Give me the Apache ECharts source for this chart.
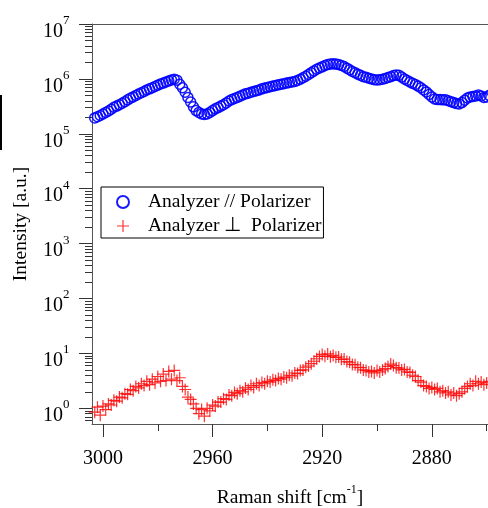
<!DOCTYPE html>
<html>
<head>
<meta charset="utf-8">
<script src="https://cdn.jsdelivr.net/npm/echarts@6/dist/echarts.min.js"></script>
<style>
html, body { margin: 0; padding: 0; background: #fff; }
#main { width: 488px; height: 508px; }
</style>
</head>
<body>
<div id="main"></div>
<script>
// Raman shift [cm-1]
var waveNumbers = [
	3003, 3002, 3001, 3000, 2999, 2998, 2997, 2996, 2995, 2994,
	2993, 2992, 2991, 2990, 2989, 2988, 2987, 2986, 2985, 2984,
	2983, 2982, 2981, 2980, 2979, 2978, 2977, 2976, 2975, 2974,
	2973, 2972, 2971, 2970, 2969, 2968, 2967, 2966, 2965, 2964,
	2963, 2962, 2961, 2960, 2959, 2958, 2957, 2956, 2955, 2954,
	2953, 2952, 2951, 2950, 2949, 2948, 2947, 2946, 2945, 2944,
	2943, 2942, 2941, 2940, 2939, 2938, 2937, 2936, 2935, 2934,
	2933, 2932, 2931, 2930, 2929, 2928, 2927, 2926, 2925, 2924,
	2923, 2922, 2921, 2920, 2919, 2918, 2917, 2916, 2915, 2914,
	2913, 2912, 2911, 2910, 2909, 2908, 2907, 2906, 2905, 2904,
	2903, 2902, 2901, 2900, 2899, 2898, 2897, 2896, 2895, 2894,
	2893, 2892, 2891, 2890, 2889, 2888, 2887, 2886, 2885, 2884,
	2883, 2882, 2881, 2880, 2879, 2878, 2877, 2876, 2875, 2874,
	2873, 2872, 2871, 2870, 2869, 2868, 2867, 2866, 2865, 2864,
	2863, 2862, 2861, 2860, 2859
];

// Analyzer // Polarizer
var parallelValues = [
	1.95e5, 2.05e5, 2.15e5, 2.3e5, 2.45e5, 2.6e5, 2.8e5, 3.05e5, 3.2e5, 3.4e5,
	3.6e5, 3.85e5, 4.15e5, 4.45e5, 4.7e5, 5.0e5, 5.3e5, 5.6e5, 5.9e5, 6.3e5,
	6.6e5, 6.9e5, 7.3e5, 7.7e5, 8.1e5, 8.4e5, 8.8e5, 9.2e5, 9.6e5, 9.9e5,
	9.5e5, 8.0e5, 6.9e5, 5.7e5, 4.6e5, 3.8e5, 3.1e5, 2.65e5, 2.45e5, 2.3e5,
	2.25e5, 2.3e5, 2.45e5, 2.65e5, 2.85e5, 3.0e5, 3.2e5, 3.4e5, 3.65e5, 3.95e5,
	4.2e5, 4.4e5, 4.6e5, 4.85e5, 5.1e5, 5.35e5, 5.5e5, 5.7e5, 5.9e5, 6.1e5,
	6.3e5, 6.6e5, 6.8e5, 7.0e5, 7.2e5, 7.4e5, 7.6e5, 7.8e5, 8.0e5, 8.2e5,
	8.4e5, 8.6e5, 8.8e5, 9.0e5, 9.4e5, 9.9e5, 1.05e6, 1.12e6, 1.2e6, 1.3e6,
	1.4e6, 1.5e6, 1.58e6, 1.66e6, 1.75e6, 1.82e6, 1.87e6, 1.88e6, 1.86e6, 1.82e6,
	1.75e6, 1.68e6, 1.57e6, 1.47e6, 1.37e6, 1.3e6, 1.22e6, 1.16e6, 1.1e6, 1.07e6,
	1.03e6, 1.0e6, 9.7e5, 9.6e5, 9.7e5, 9.9e5, 1.02e6, 1.06e6, 1.1e6, 1.15e6,
	1.18e6, 1.16e6, 1.08e6, 1.0e6, 9.4e5, 8.8e5, 8.3e5, 7.9e5, 7.4e5, 6.9e5,
	6.3e5, 5.8e5, 5.2e5, 4.7e5, 4.3e5, 4.2e5, 4.2e5, 4.15e5, 4.15e5, 4.0e5,
	3.85e5, 3.7e5, 3.55e5, 3.5e5, 3.7e5, 4.1e5, 4.5e5, 4.7e5, 4.8e5, 4.9e5,
	5.1e5, 4.9e5, 4.6e5, 4.7e5, 5.0e5
];

// Analyzer ⊥ Polarizer
var perpendicularValues = [
	0.85, 1.05, 0.75, 1.1, 0.95, 1.2, 1.15, 1.4, 1.35, 1.6,
	1.55, 1.85, 1.8, 2.2, 2.1, 2.5, 2.35, 2.8, 2.6, 3.1,
	2.7, 3.4, 2.9, 3.8, 3.1, 4.2, 3.2, 4.7, 3.4, 4.9,
	3.2, 3.6, 2.5, 2.2, 1.6, 1.45, 1.2, 1.0, 0.8, 0.95,
	0.72, 1.0, 0.9, 1.15, 1.1, 1.3, 1.3, 1.5, 1.45, 1.75,
	1.7, 1.95, 1.85, 2.1, 2.0, 2.35, 2.2, 2.6, 2.4, 2.8,
	2.6, 2.95, 2.8, 3.1, 3.0, 3.3, 3.2, 3.5, 3.4, 3.7,
	3.6, 4.0, 3.9, 4.4, 4.3, 4.9, 5.0, 5.6, 5.9, 6.5,
	7.2, 8.0, 8.8, 9.6, 8.9, 9.8, 8.7, 9.2, 8.5, 8.6,
	7.8, 7.9, 7.1, 6.9, 6.3, 6.2, 5.6, 5.5, 5.0, 4.9,
	4.6, 4.7, 4.4, 4.9, 4.6, 5.0, 5.3, 5.8, 6.4, 6.0,
	5.5, 5.4, 5.0, 5.1, 4.6, 4.5, 4.0, 3.8, 3.2, 3.0,
	2.6, 2.5, 2.3, 2.4, 2.2, 2.3, 2.0, 2.1, 1.9, 2.0,
	1.75, 1.9, 1.7, 1.85, 2.0, 2.3, 2.5, 2.8, 2.6, 3.1,
	2.8, 3.0, 2.7, 2.9, 3.1
];

var xLabelTicks = [3000, 2960, 2920, 2880];
var xMinorTicks = [2980, 2940, 2900, 2860];
var yDecades = [1, 10, 100, 1e3, 1e4, 1e5, 1e6, 1e7];

var xMin = 2859.5, xMax = 3004;
var yMin = 0.518, yMax = 1e7;

var serif = 'Liberation Serif';
var axisColor = '#555';

// minor ticks at 2..9 times every decade
var yMinorTicks = [];
[0.1].concat(yDecades).forEach(function (dec) {
	for (var k = 2; k <= 9; k++) {
		var v = k * dec;
		if (v >= yMin && v <= yMax) yMinorTicks.push(v);
	}
});

function pairs(xs, ys) {
	var out = [];
	for (var i = 0; i < xs.length; i++) out.push([xs[i], ys[i]]);
	return out;
}

var chart = echarts.init(document.getElementById('main'));
var option = {
	animation: false,
	backgroundColor: '#fff',
	grid: { left: 92, right: 0, top: 24, bottom: 84, containLabel: false, outerBoundsMode: 'none' },
	legend: {
		orient: 'vertical',
		left: 101,
		top: 187,
		padding: [4, 2, 1, 15],
		itemGap: 2,
		itemWidth: 34,
		itemHeight: 12,
		borderColor: '#000',
		borderWidth: 1,
		borderRadius: 0,
		textStyle: { fontFamily: serif, fontSize: 19.5, lineHeight: 22, color: '#000', padding: [0, 0, 0, 3] },
		data: ['Analyzer // Polarizer', 'Analyzer \u22a5  Polarizer']
	},
	xAxis: [
		{
			type: 'value', inverse: true, min: xMin, max: xMax, position: 'bottom',
			axisLine: { show: true, lineStyle: { color: axisColor, width: 1 } },
			axisTick: { show: true, customValues: xLabelTicks, length: 13, lineStyle: { color: '#333' } },
			axisLabel: {
				customValues: xLabelTicks, margin: 25, fontFamily: serif, fontSize: 20, color: '#000',
				formatter: function (v) { return String(v); }
			},
			splitLine: { show: false },
			name: '{b|Raman shift [cm}{s|-1}{b|]}',
			nameLocation: 'middle',
			nameGap: 60,
			nameTextStyle: {
				rich: {
					b: { fontFamily: serif, fontSize: 19.5, color: '#000', lineHeight: 24, verticalAlign: 'bottom' },
					s: { fontFamily: serif, fontSize: 12, color: '#000', lineHeight: 12, verticalAlign: 'top' }
				}
			}
		},
		{
			type: 'value', inverse: true, min: xMin, max: xMax, position: 'bottom', offset: 0,
			axisLine: { show: false },
			axisTick: { show: true, customValues: xMinorTicks, length: 7, lineStyle: { color: '#333' } },
			axisLabel: { show: false },
			splitLine: { show: false }
		},
		{
			type: 'value', inverse: true, min: xMin, max: xMax, position: 'top',
			axisLine: { show: true, lineStyle: { color: axisColor, width: 1 } },
			axisTick: { show: false },
			axisLabel: { show: false },
			splitLine: { show: false }
		}
	],
	yAxis: [
		{
			type: 'log', min: yMin, max: yMax, position: 'left',
			axisLine: { show: true, lineStyle: { color: axisColor, width: 1 } },
			axisTick: { show: true, customValues: yDecades, length: 13, lineStyle: { color: '#333' } },
			axisLabel: {
				customValues: yDecades,
				margin: 22.5,
				padding: [7.5, 0, 0, 0],
				formatter: function (v) {
					return '{b|10}{s|' + Math.round(Math.log10(v)) + '}';
				},
				rich: {
					b: { fontFamily: serif, fontSize: 20, color: '#000', lineHeight: 27.5, verticalAlign: 'bottom' },
					s: { fontFamily: serif, fontSize: 13, color: '#000', lineHeight: 13, verticalAlign: 'top' }
				}
			},
			splitLine: { show: false },
			name: 'Intensity [a.u.]',
			nameLocation: 'middle',
			nameGap: 61,
			nameTextStyle: { fontFamily: serif, fontSize: 19.5, color: '#000' }
		},
		{
			type: 'log', min: yMin, max: yMax, position: 'left', offset: 0,
			axisLine: { show: false },
			axisTick: { show: true, customValues: yMinorTicks, length: 7, lineStyle: { color: '#333' } },
			axisLabel: { show: false },
			splitLine: { show: false }
		}
	],
	graphic: [
		{ type: 'rect', left: 0, top: 95, shape: { width: 2, height: 55 }, style: { fill: '#000' } }
	],
	series: [
		{
			name: 'Analyzer // Polarizer',
			type: 'scatter',
			xAxisIndex: 0,
			yAxisIndex: 0,
			clip: false,
			symbol: 'circle',
			symbolSize: 10,
			itemStyle: { color: 'rgba(0,0,255,0)', borderColor: '#0000ff', borderWidth: 1.5, opacity: 0.9 },
			data: pairs(waveNumbers, parallelValues)
		},
		{
			name: 'Analyzer \u22a5  Polarizer',
			type: 'scatter',
			xAxisIndex: 0,
			yAxisIndex: 0,
			clip: false,
			symbol: 'path://M4.5,0h1v4.5h4.5v1h-4.5v4.5h-1v-4.5h-4.5v-1h4.5z',
			symbolSize: 12,
			itemStyle: { color: '#ff0000', opacity: 0.8 },
			data: pairs(waveNumbers, perpendicularValues)
		}
	]
};
chart.setOption(option);
</script>
</body>
</html>
